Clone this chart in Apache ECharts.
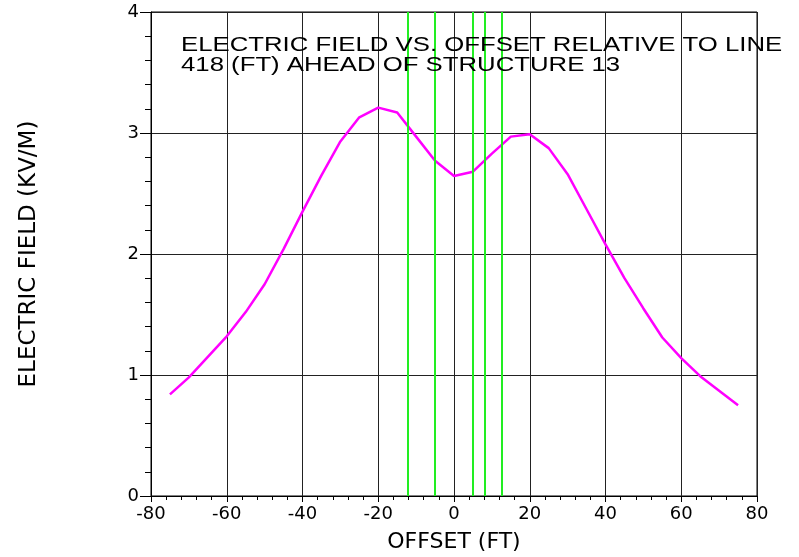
<!DOCTYPE html>
<html>
<head>
<meta charset="utf-8">
<script src="https://cdn.jsdelivr.net/npm/echarts@6/dist/echarts.min.js"></script>
<style>html,body{margin:0;padding:0;background:#fff;}#c{width:799px;height:557px;}</style>
</head>
<body>
<div id="c"></div>
<script>
var offsets = [-75,-70,-65,-60,-55,-50,-45,-40,-35,-30,-25,-20,-15,-10,-5,0,5,10,15,20,25,30,35,40,45,50,55,60,65,70,75];
var field = [0.84,0.98,1.15,1.32,1.52,1.75,2.04,2.35,2.65,2.93,3.13,3.21,3.17,2.97,2.77,2.645,2.68,2.83,2.97,2.99,2.875,2.66,2.37,2.08,1.80,1.55,1.31,1.14,0.99,0.87,0.75];
var conductorX = [-12.1,-5.2,5.0,8.2,12.7];
var xTicks = [-80,-60,-40,-20,0,20,40,60,80];
var yTicks = [0,1,2,3,4];
var titleLines = ['ELECTRIC FIELD VS. OFFSET RELATIVE TO LINE','418 (FT) AHEAD OF STRUCTURE 13'];
var xName = 'OFFSET (FT)';
var yName = 'ELECTRIC FIELD (KV/M)';

var font = 'Liberation Sans, Arial, sans-serif';
var wide = 'DejaVu Sans, sans-serif';
var chart = echarts.init(document.getElementById('c'), null, {renderer:'canvas'});
var data = offsets.map(function(x,i){return [x, field[i]];});
chart.setOption({
  animation:false,
  backgroundColor:'#fff',
  graphic:[{
    type:'text', left:181, top:35, z:10, scaleX:1.32,
    style:{text:titleLines.join('\n'), font:'19.5px ' + font, fill:'#000', lineHeight:20.6}
  }],
  grid:{left:151,right:42,top:12,bottom:61,outerBoundsMode:'none',containLabel:false,show:true,borderColor:'#000',borderWidth:1,backgroundColor:'transparent'},
  xAxis:{
    type:'value',min:xTicks[0],max:xTicks[xTicks.length-1],interval:20,
    name:xName,nameLocation:'middle',nameGap:35,
    nameTextStyle:{fontFamily:wide,fontSize:22,color:'#000'},
    axisLine:{show:true,onZero:false,lineStyle:{color:'#000',width:1}},
    axisTick:{show:true,length:6,lineStyle:{color:'#000'}},
    minorTick:{show:true,splitNumber:5,length:4,lineStyle:{color:'#000'}},
    axisLabel:{fontFamily:wide,fontSize:18,color:'#000',margin:9},
    splitLine:{show:true,lineStyle:{color:'#222',width:1}}
  },
  yAxis:{
    type:'value',min:yTicks[0],max:yTicks[yTicks.length-1],interval:1,
    name:yName,nameLocation:'middle',nameGap:110,
    nameTextStyle:{fontFamily:wide,fontSize:23,color:'#000'},
    axisLine:{show:true,onZero:false,lineStyle:{color:'#000',width:1}},
    axisTick:{show:true,length:11,lineStyle:{color:'#000'}},
    minorTick:{show:true,splitNumber:5,length:6,lineStyle:{color:'#000'}},
    axisLabel:{fontFamily:wide,fontSize:18,color:'#000',margin:12},
    splitLine:{show:true,lineStyle:{color:'#222',width:1}}
  },
  series:[
    {
      type:'line',data:data,showSymbol:false,symbol:'none',
      lineStyle:{color:'#ff00ff',width:2.5},z:3,
      markLine:{
        silent:true,symbol:['none','none'],label:{show:false},
        lineStyle:{color:'#22ee22',width:2,type:'solid'},
        data:conductorX.map(function(v){return {xAxis:v};}),
        animation:false
      }
    }
  ]
});
</script>
</body>
</html>
